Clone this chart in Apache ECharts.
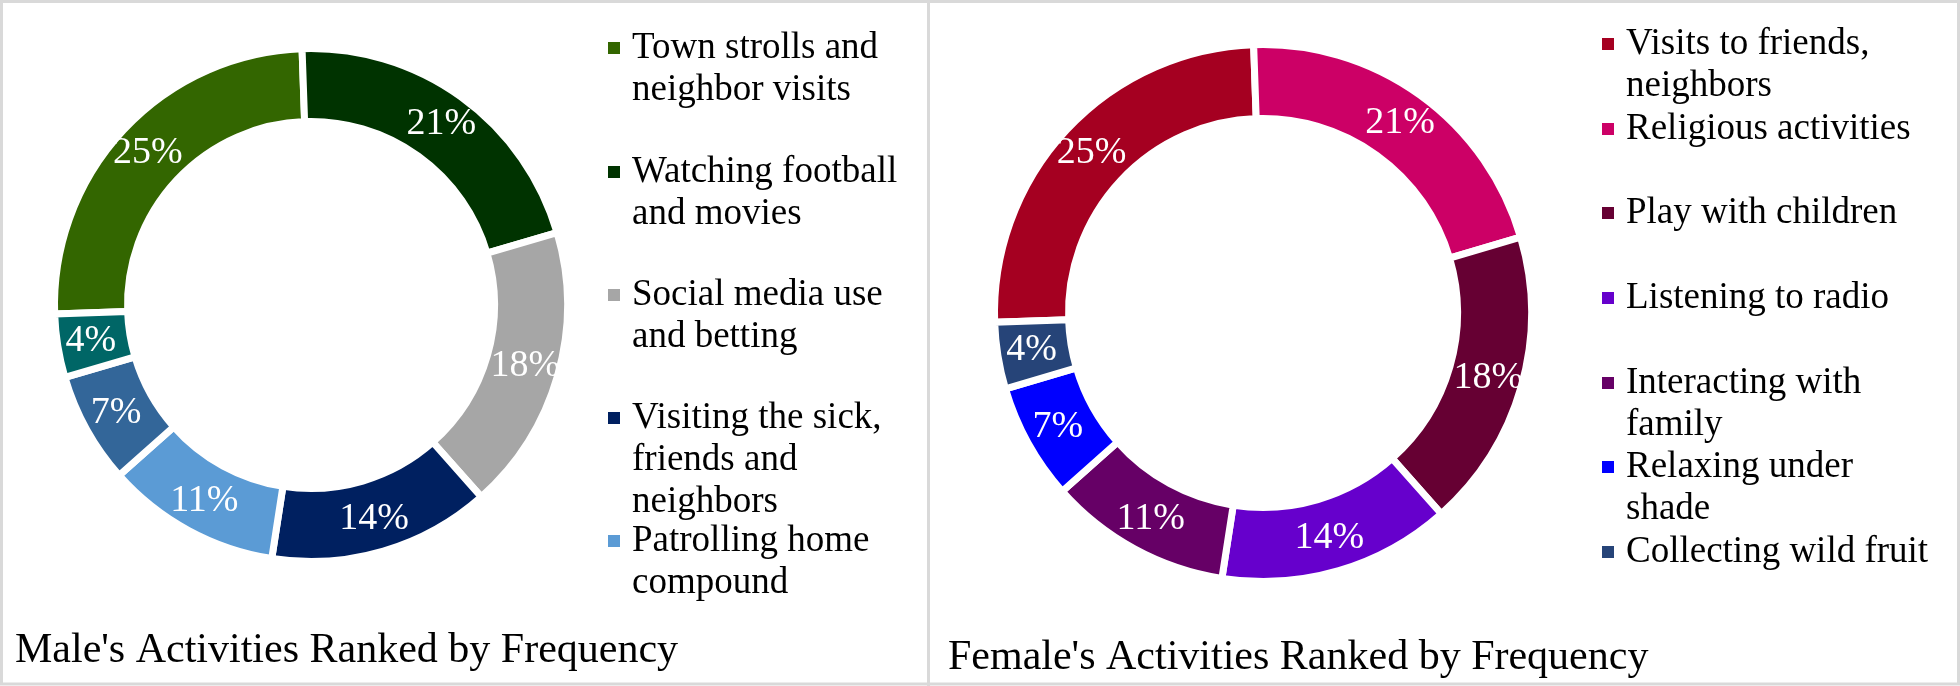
<!DOCTYPE html>
<html>
<head>
<meta charset="utf-8">
<script src="https://cdn.jsdelivr.net/npm/echarts@6/dist/echarts.min.js"></script>
<style>
  html, body { margin: 0; padding: 0; background: #fff; }
  #chart { width: 1960px; height: 686px; }
</style>
</head>
<body>
<div id="chart"></div>
<script>
// male panel
var maleNames = [
    'Town strolls and\nneighbor visits',
    'Watching football\nand movies',
    'Social media use\nand betting',
    'Visiting the sick,\nfriends and\nneighbors',
    'Patrolling home\ncompound',
    'Male slice 6',
    'Male slice 7'
];
var maleValues = [25, 21, 18, 14, 11, 7, 4];
var maleColors = ['#336600', '#003300', '#A6A6A6', '#002060', '#5B9BD5', '#336699', '#006666'];
var maleLegendCount = 5; // only five entries show in the legend

// female panel
var femaleNames = [
    'Visits to friends,\nneighbors',
    'Religious activities',
    'Play with children',
    'Listening to radio',
    'Interacting with\nfamily',
    'Relaxing under\nshade',
    'Collecting wild fruit'
];
var femaleValues = [25, 21, 18, 14, 11, 7, 4];
var femaleColors = ['#A50021', '#CC0066', '#660033', '#6600CC', '#660066', '#0000FF', '#264478'];

var font = 'Liberation Serif, Times New Roman, serif';
var LH = 42;

// legend icon centre (y) of every entry, evenly spaced like the original
var maleIconY = [48, 172, 295, 418, 541];
var femaleIconY = [44, 129, 213, 298, 383, 467, 552];

var chart = echarts.init(document.getElementById('chart'));

// one legend per entry so the spacing stays even whatever the line count
function legendFor(name, left, iconY) {
    var n = name.split('\n').length;
    return {
        data: [name],
        orient: 'vertical',
        left: left,
        top: iconY - (2 * n - 1) * LH / 2,
        padding: 0,
        icon: 'rect',
        itemWidth: 12,
        itemHeight: 12,
        itemStyle: { borderWidth: 0 },
        selectedMode: false,
        // blank lines on top keep the square beside the first line
        formatter: function (nm) {
            return new Array(n).join('\n') + nm;
        },
        textStyle: {
            fontFamily: font,
            fontSize: 37,
            lineHeight: LH,
            color: '#000',
            padding: [0, 0, 0, 7]
        }
    };
}

function donut(names, values, colors, center, radius) {
    return {
        type: 'pie',
        center: center,
        radius: radius,
        startAngle: 182,
        clockwise: true,
        avoidLabelOverlap: false,
        itemStyle: { borderColor: '#fff', borderWidth: 7 },
        label: {
            show: true,
            position: 'inside',
            formatter: function (p) { return p.value + '%'; },
            color: '#fff',
            fontFamily: font,
            fontSize: 38
        },
        labelLine: { show: false },
        emphasis: { disabled: true },
        data: names.map(function (n, i) {
            return { name: n, value: values[i], itemStyle: { color: colors[i] } };
        })
    };
}

var legends = [];
maleNames.slice(0, maleLegendCount).forEach(function (n, i) {
    legends.push(legendFor(n, 608, maleIconY[i]));
});
femaleNames.forEach(function (n, i) {
    legends.push(legendFor(n, 1602, femaleIconY[i]));
});

var titleStyle = { fontFamily: font, fontSize: 42, fontWeight: 'normal', color: '#000', lineHeight: 48 };

var option = {
    animation: false,
    backgroundColor: '#fff',
    title: [
        { text: "Male's Activities Ranked by Frequency", left: 15, top: 627, padding: 0, textStyle: titleStyle },
        { text: "Female's Activities Ranked by Frequency", left: 948, top: 634, padding: 0, textStyle: titleStyle }
    ],
    legend: legends,
    graphic: [
        {
            type: 'rect',
            silent: true,
            shape: { x: 1.5, y: 1.5, width: 1957, height: 682.5 },
            style: { fill: 'transparent', stroke: '#d9d9d9', lineWidth: 3 }
        },
        {
            type: 'line',
            silent: true,
            shape: { x1: 928.5, y1: 0, x2: 928.5, y2: 686 },
            style: { stroke: '#d9d9d9', lineWidth: 3 }
        }
    ],
    series: [
        donut(maleNames, maleValues, maleColors, [311, 305], [183.5, 256.5]),
        donut(femaleNames, femaleValues, femaleColors, [1263, 313], [194.5, 268.5])
    ]
};

chart.setOption(option);
</script>
</body>
</html>
